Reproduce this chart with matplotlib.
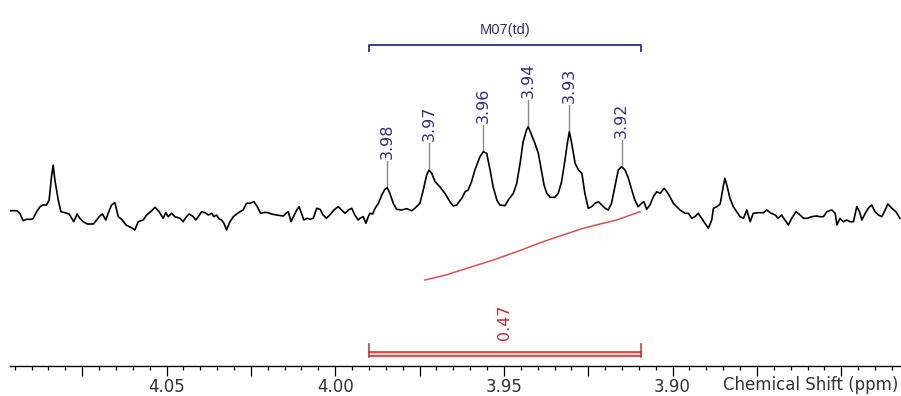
import matplotlib
matplotlib.use("Agg")
import matplotlib.pyplot as plt
import numpy as np
from matplotlib.ticker import MultipleLocator

# ---------------- data ----------------
shift_ppm = [
    4.0964, 4.0944, 4.0935, 4.0925, 4.0915, 4.0900, 4.0895, 4.0885, 4.0875, 4.0866,
    4.0856, 4.0848, 4.0841, 4.0836, 4.0831, 4.0821, 4.0813, 4.0801, 4.0789, 4.0781,
    4.0775, 4.0765, 4.0757, 4.0747, 4.0735, 4.0717, 4.0707, 4.0698, 4.0690, 4.0680,
    4.0673, 4.0663, 4.0653, 4.0643, 4.0633, 4.0620, 4.0604, 4.0594, 4.0584, 4.0569,
    4.0559, 4.0547, 4.0534, 4.0522, 4.0510, 4.0502, 4.0495, 4.0485, 4.0475,
    4.0460, 4.0451, 4.0441, 4.0433, 4.0423, 4.0413, 4.0406, 4.0396, 4.0386, 4.0376,
    4.0366, 4.0360, 4.0352, 4.0344, 4.0337, 4.0330, 4.0322, 4.0312, 4.0302, 4.0292,
    4.0282, 4.0273, 4.0263, 4.0253, 4.0241, 4.0231, 4.0221, 4.0208, 4.0199, 4.0189,
    4.0174, 4.0154, 4.0146, 4.0139, 4.0131, 4.0124, 4.0114, 4.0107, 4.0100, 4.0093,
    4.0083, 4.0075, 4.0065, 4.0055, 4.0045, 4.0036, 4.0026, 4.0016, 4.0004, 3.9991,
    3.9981, 3.9971, 3.9961, 3.9951, 3.9942, 3.9932,
    3.9927, 3.9917, 3.9909, 3.9902, 3.9897, 3.9889, 3.9882, 3.9872, 3.9862, 3.9853,
    3.9846, 3.9838, 3.9828, 3.9818, 3.9803, 3.9788, 3.9773, 3.9764, 3.9749, 3.9739,
    3.9729, 3.9722, 3.9714, 3.9704, 3.9690, 3.9675, 3.9660, 3.9650, 3.9640, 3.9625,
    3.9615, 3.9606, 3.9596, 3.9586, 3.9571, 3.9561, 3.9551, 3.9541, 3.9532, 3.9521,
    3.9512, 3.9497, 3.9487, 3.9472, 3.9462, 3.9452, 3.9443, 3.9433, 3.9428, 3.9418,
    3.9408, 3.9398, 3.9390, 3.9381, 3.9373, 3.9363, 3.9349, 3.9339, 3.9329, 3.9319,
    3.9312, 3.9306, 3.9299, 3.9289, 3.9279, 3.9269, 3.9260, 3.9250, 3.9240, 3.9230,
    3.9220, 3.9210, 3.9200, 3.9191, 3.9181, 3.9171, 3.9161, 3.9151, 3.9141, 3.9131,
    3.9121, 3.9112, 3.9102, 3.9092, 3.9085, 3.9077, 3.9067, 3.9057, 3.9047, 3.9037,
    3.9025, 3.9017, 3.9008, 3.8998, 3.8988, 3.8978, 3.8963, 3.8953, 3.8943, 3.8934,
    3.8924, 3.8914, 3.8904, 3.8894, 3.8884, 3.8879, 3.8869,
    3.8859, 3.8850, 3.8845, 3.8838, 3.8830, 3.8820, 3.8810, 3.8800, 3.8790, 3.8780,
    3.8770, 3.8761, 3.8746, 3.8731, 3.8721, 3.8711, 3.8696, 3.8687, 3.8677, 3.8667,
    3.8657, 3.8647, 3.8634, 3.8622, 3.8612, 3.8601, 3.8588, 3.8573, 3.8563, 3.8553,
    3.8543, 3.8528, 3.8518, 3.8513, 3.8504, 3.8494, 3.8484, 3.8474, 3.8464, 3.8454,
    3.8446, 3.8439, 3.8429, 3.8420, 3.8410, 3.8400, 3.8390, 3.8380, 3.8370, 3.8362,
    3.8350, 3.8338, 3.8326,
]
intensity = [
    155.3, 155.3, 152.7, 145.3, 146.7, 146.7, 147.7, 154.3, 159.3, 161.0,
    161.0, 166.0, 189.3, 201.0, 186.0, 166.0, 154.3, 153.3, 152.0, 147.7,
    144.3, 152.0, 147.7, 144.3, 142.0, 142.0, 146.0, 150.0, 152.0, 146.0,
    152.7, 161.0, 163.3, 149.3, 146.7, 141.0, 138.3, 136.0, 144.3, 146.0,
    151.0, 154.3, 158.7, 154.3, 147.7, 153.3, 149.3, 152.7, 149.3,
    147.7, 144.3, 149.3, 152.0, 150.0, 146.0, 149.3, 154.3, 153.3, 151.0,
    152.7, 149.3, 151.0, 147.0, 146.0, 142.7, 136.0, 144.3, 149.3, 152.0,
    154.3, 156.0, 162.7, 162.7, 164.3, 159.3, 152.7, 153.7, 153.3, 152.0,
    151.0, 150.0, 152.7, 154.3, 144.3, 149.3, 156.0, 159.3, 152.7, 146.0,
    147.7, 146.7, 147.7, 157.7, 156.7, 151.0, 147.7, 151.0, 156.0, 159.3,
    156.0, 152.7, 156.0, 157.7, 151.0, 146.0,
    147.7, 149.3, 142.7, 149.3, 152.7, 152.0, 157.7, 162.7, 171.0, 176.7,
    178.3, 172.7, 162.7, 156.7, 156.0, 157.3, 155.3, 157.7, 162.7, 176.0,
    191.0, 196.0, 192.7, 184.3, 179.3, 172.7, 164.3, 160.0, 161.0, 167.7,
    174.3, 176.0, 184.3, 196.0, 209.3, 214.3, 212.7, 196.0, 179.3, 166.0,
    161.0, 160.3, 166.0, 172.7, 182.7, 202.7, 224.3, 236.0, 239.3, 231.0,
    222.7, 212.7, 198.0, 181.0, 172.7, 168.7, 168.7, 172.7, 184.3, 206.0,
    222.7, 234.3, 222.7, 202.7, 196.0, 192.7, 172.7, 157.7, 159.3, 162.7,
    164.3, 161.0, 157.7, 156.0, 162.7, 179.3, 196.0, 199.3, 196.0, 187.7,
    176.0, 166.0, 159.3, 162.7, 164.3, 156.7, 161.0, 169.3, 174.3, 172.7,
    177.7, 174.3, 169.3, 162.7, 159.3, 156.0, 152.7, 152.7, 147.7, 149.3,
    152.7, 147.7, 142.7, 137.7, 146.0, 157.7, 159.3,
    162.0, 179.3, 187.7, 179.3, 167.7, 159.3, 154.3, 149.3, 147.7, 156.0,
    144.3, 152.7, 153.3, 153.3, 156.0, 153.3, 151.0, 147.7, 151.0, 146.0,
    141.0, 147.7, 154.3, 151.0, 147.7, 147.7, 149.3, 150.0, 149.3, 149.3,
    154.3, 156.0, 152.7, 141.0, 147.7, 144.3, 146.0, 144.3, 144.3, 159.3,
    154.3, 146.0, 152.7, 157.7, 161.0, 154.3, 151.0, 149.3, 156.0, 162.0,
    157.7, 154.3, 147.7,
]

peak_ppm = [3.9846, 3.9722, 3.9561, 3.9429, 3.9306, 3.9151]
peak_height = [178.3, 196.0, 214.3, 239.3, 234.3, 199.3]
peak_labels = ["3.98", "3.97", "3.96", "3.94", "3.93", "3.92"]

multiplet_name = "M07(td)"
range_from = 3.9900
range_to = 3.9094

integral_ppm = [3.9734, 3.9672, 3.9610, 3.9536, 3.9462, 3.9384, 3.9325, 3.9265, 3.9215, 3.9166, 3.9097]
integral_curve = [86.0, 91.0, 97.7, 105.5, 114.3, 124.3, 131.0, 137.7, 142.0, 146.0, 154.3]
integral_value = "0.47"

tick_values = [4.05, 4.00, 3.95, 3.90]
tick_labels = ["4.05", "4.00", "3.95", "3.90"]
x_label = "Chemical Shift (ppm)"

# ---------------- figure ----------------
NAVY = "#2e2e86"
RED = "#c8282d"
fig = plt.figure(figsize=(9.01, 3.96), dpi=100)
ax = fig.add_axes([10 / 901, 0, 891 / 901, 1])
ax.set_xlim(4.0964, 3.8323)
ax.set_ylim(-30, 366)

# spectrum
ax.plot(shift_ppm, intensity, color="black", lw=1.2, solid_joinstyle="round")

# peak labels
for p, h, lab in zip(peak_ppm, peak_height, peak_labels):
    ax.plot([p, p], [h + 2, h + 27], color="#8a8a8a", lw=1.0)
    ax.text(p, h + 29, lab, rotation=90, ha="center", va="bottom",
            color=NAVY, fontsize=11.5)

# multiplet bracket
ax.plot([range_from, range_from, range_to, range_to], [315, 321, 321, 315],
        color=NAVY, lw=1.3)
ax.text((range_from + range_to) / 2, 336, multiplet_name, ha="center", va="center",
        color=NAVY, fontsize=10.5, family="Liberation Sans")

# integral curve
ax.plot(integral_ppm, integral_curve, color="#d9504f", lw=1.1)

# integral bracket
ax.fill_between([range_from, range_to], [10, 10], [14, 14], color="#f3c6c6", lw=0)
ax.plot([range_from, range_to], [14, 14], color=RED, lw=1.1)
ax.plot([range_from, range_to], [10, 10], color=RED, lw=1.1)
ax.plot([range_from, range_from], [9, 22], color=RED, lw=1.1)
ax.plot([range_to, range_to], [9, 22], color=RED, lw=1.1)
ax.text((range_from + range_to) / 2, 43.5, integral_value, rotation=90,
        ha="center", va="center", color=RED, fontsize=11.5)

# axis
for s in ["left", "right", "top"]:
    ax.spines[s].set_visible(False)
ax.spines["bottom"].set_position(("data", 0))
ax.spines["bottom"].set_linewidth(1.0)
ax.yaxis.set_visible(False)

majors = np.round(np.arange(3.85, 4.0751, 0.025), 3)
labels = []
for m in majors:
    lab = ""
    for v, t in zip(tick_values, tick_labels):
        if abs(m - v) < 1e-6:
            lab = t
    labels.append(lab)
ax.set_xticks(majors, labels=labels)
ax.xaxis.set_minor_locator(MultipleLocator(0.005))
ax.tick_params(axis="x", which="major", direction="out", length=7.5, width=0.9,
               labelsize=12, pad=1.5, labelcolor="#333333")
ax.tick_params(axis="x", which="minor", direction="out", length=3.2, width=0.9)

fig.text(898 / 901, 1 - 385 / 396, x_label, ha="right", va="center",
         fontsize=12, color="#333333")

fig.savefig("out.png", dpi=100)
